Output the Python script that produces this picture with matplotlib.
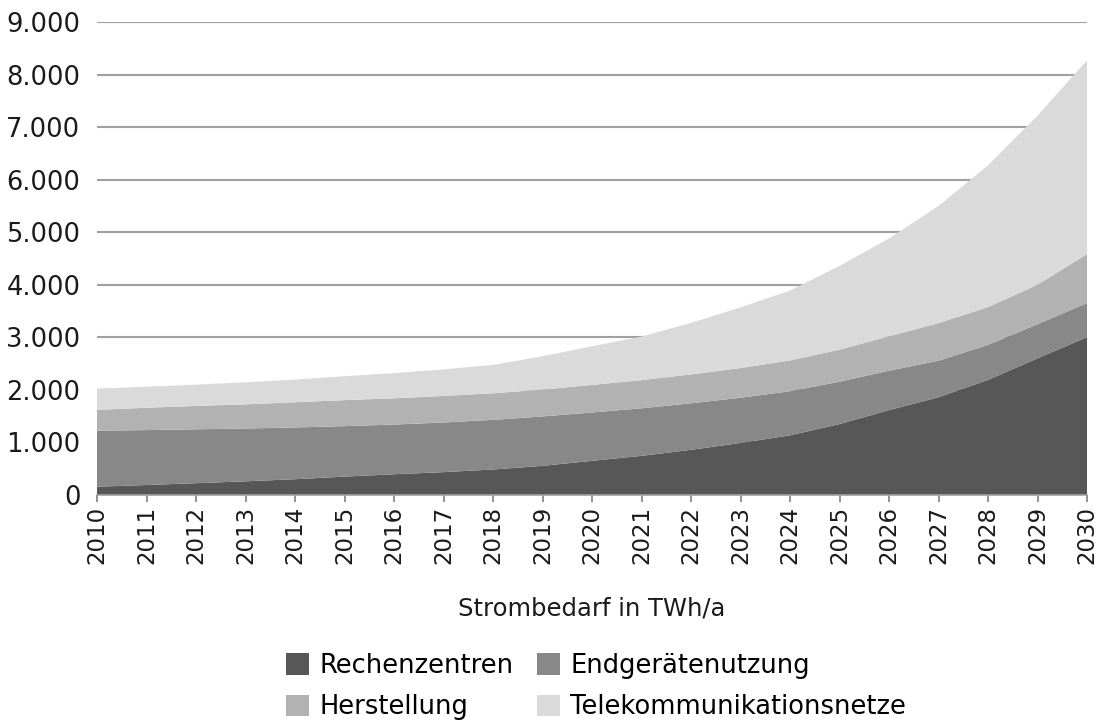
import matplotlib
matplotlib.use("Agg")
import matplotlib.pyplot as plt
from matplotlib.patches import Patch
from matplotlib.ticker import FuncFormatter
import numpy as np

# Jahre
years = np.arange(2010, 2031)

# Einzelwerte in TWh/a
rechenzentren = [158, 190, 225, 260, 300, 350, 395, 435, 485, 555, 650,
                 745, 860, 990, 1135, 1350, 1615, 1860, 2190, 2600, 3003]
endgeraete_top = [1225, 1235, 1250, 1265, 1285, 1310, 1340, 1380, 1430, 1495, 1570,
                  1650, 1745, 1850, 1975, 2155, 2365, 2555, 2857, 3250, 3651]
herstellung_top = [1620, 1660, 1695, 1725, 1765, 1805, 1840, 1885, 1935, 2005, 2095,
                   2185, 2295, 2415, 2560, 2765, 3020, 3270, 3575, 4000, 4584]
gesamt = [2025, 2060, 2100, 2145, 2195, 2260, 2320, 2390, 2475, 2640, 2830,
          3015, 3275, 3570, 3890, 4360, 4880, 5500, 6273, 7217, 8273]

# Schichten (gestapelt)
endgeraete = np.array(endgeraete_top) - np.array(rechenzentren)
herstellung = np.array(herstellung_top) - np.array(endgeraete_top)
telekom = np.array(gesamt) - np.array(herstellung_top)

labels = ["Rechenzentren", "Endgerätenutzung", "Herstellung", "Telekommunikationsnetze"]
colors = ["#575757", "#888888", "#b2b2b2", "#dadada"]

plt.rcParams['font.family'] = ['DejaVu Sans']

fig = plt.figure(figsize=(10.99, 7.22), dpi=100)
ax = fig.add_axes([97 / 1099, 1 - 495 / 722, (1087 - 97) / 1099, (495 - 22) / 722])

ax.stackplot(years, rechenzentren, endgeraete, herstellung, telekom,
             colors=colors, linewidth=0, zorder=2)

ax.set_xlim(2010, 2030)
ax.set_ylim(0, 9000)
ax.set_yticks(np.arange(0, 9001, 1000))
ax.yaxis.set_major_formatter(FuncFormatter(lambda v, p: f"{int(v):,}".replace(",", ".")))
ax.set_xticks(years)
ax.set_xticklabels([str(y) for y in years], rotation=90)

ax.grid(axis='y', color='#a0a0a0', linewidth=1.5, zorder=0)
ax.set_axisbelow(True)
for s in ['left', 'right', 'top']:
    ax.spines[s].set_visible(False)
ax.spines['bottom'].set_color('#a0a0a0')
ax.spines['bottom'].set_linewidth(1.2)
ax.tick_params(axis='y', length=0, pad=12, labelsize=18.5, labelcolor='#1a1a1a')
ax.tick_params(axis='x', length=5, width=1.2, color='#808080', pad=3,
               labelsize=16.5, labelcolor='#1a1a1a')

fig.text(592 / 1099, 1 - 608 / 722, "Strombedarf in TWh/a", ha='center', va='center',
         fontsize=17.5, color='#1a1a1a')

handles = [Patch(facecolor=c, edgecolor='none') for c in colors]
order = [0, 2, 1, 3]
fig.legend([handles[i] for i in order], [labels[i] for i in order],
           ncol=2, loc='upper center', bbox_to_anchor=(596 / 1099, 1 - 653 / 722),
           frameon=False, fontsize=18.5, handlelength=0.9, handleheight=0.9,
           handletextpad=0.4, columnspacing=0.9, labelspacing=0.6,
           borderpad=0, borderaxespad=0)

fig.savefig("out.png", dpi=100)
